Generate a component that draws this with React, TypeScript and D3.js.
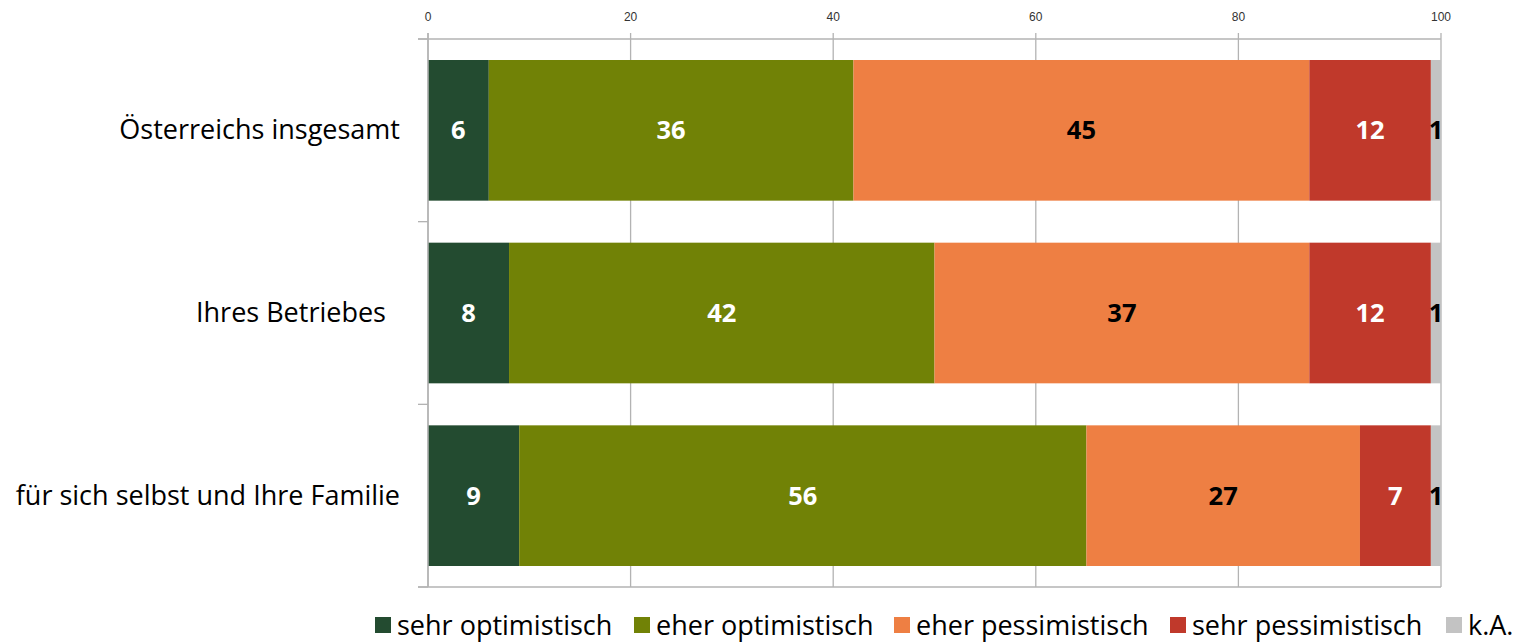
import React from "react";
import * as d3 from "d3";

const categories = ["Österreichs insgesamt", "Ihres Betriebes", "für sich selbst und Ihre Familie"];
const seriesNames = ["sehr optimistisch", "eher optimistisch", "eher pessimistisch", "sehr pessimistisch", "k.A."];
const sehrOptimistisch = [6, 8, 9];
const eherOptimistisch = [36, 42, 56];
const eherPessimistisch = [45, 37, 27];
const sehrPessimistisch = [12, 12, 7];
const keineAngabe = [1, 1, 1];
const xTicks = [0, 20, 40, 60, 80, 100];

const colors = ["#234B30", "#718206", "#EE7F43", "#C0392B", "#C3C3C3"];
const labelColors = ["#fff", "#fff", "#000", "#fff", "#000"];

const W = 1521, H = 642;
const left = 428, right = 1441, top = 39, bottom = 587;
const FONT = "'Open Sans', Lato, sans-serif";

export default function App() {
  const x = d3.scaleLinear().domain([0, 100]).range([left, right]);
  const y = d3.scaleBand().domain(categories).range([top, bottom]).paddingInner(0.23).paddingOuter(0.115);
  const rows = categories.map((c, i) => ({
    cat: c,
    vals: [sehrOptimistisch[i], eherOptimistisch[i], eherPessimistisch[i], sehrPessimistisch[i], keineAngabe[i]],
  }));
  const stacked = d3.stack<any, number>().keys(d3.range(5) as any).value((d: any, k: any) => d.vals[k])(rows as any);
  const step = (bottom - top) / categories.length;
  const legendX = [375, 634, 894, 1170, 1446];
  return (
    <svg width={W} height={H} style={{ position: "absolute", left: 0, top: 0, background: "#fff" }}>
      {xTicks.map((t) => (
        <g key={t}>
          <line x1={x(t)} x2={x(t)} y1={33} y2={bottom} stroke="#b3b3b3" strokeWidth={1.3} />
          <text x={x(t)} y={21} textAnchor="middle" fontFamily="'Liberation Sans', Arial, sans-serif" fontSize={12} fill="#333">{t}</text>
        </g>
      ))}
      <line x1={418} x2={right} y1={top} y2={top} stroke="#b3b3b3" strokeWidth={1.3} />
      <line x1={418} x2={right} y1={bottom} y2={bottom} stroke="#b3b3b3" strokeWidth={1.5} />
      {d3.range(categories.length + 1).map((i) => (
        <line key={i} x1={418} x2={left} y1={top + i * step} y2={top + i * step} stroke="#b3b3b3" strokeWidth={1.3} />
      ))}
      {stacked.map((s, k) => (
        <g key={k}>
          {s.map((d: any, i) => (
            <rect key={i} x={x(d[0])} y={y(categories[i])!} width={x(d[1]) - x(d[0])} height={y.bandwidth()} fill={colors[k]} />
          ))}
        </g>
      ))}
      <line x1={left} x2={left} y1={33} y2={bottom} stroke="#b3b3b3" strokeWidth={1.5} />
      {stacked.map((s, k) => (
        <g key={"l" + k}>
          {s.map((d: any, i) => (
            <text key={i} x={(x(d[0]) + x(d[1])) / 2} y={y(categories[i])! + y.bandwidth() / 2 + 9} textAnchor="middle"
              fontFamily={FONT} fontWeight="bold" fontSize={25.5} fill={labelColors[k]}>{d[1] - d[0]}</text>
          ))}
        </g>
      ))}
      {categories.map((c) => (
        <text key={c} x={400} y={y(c)! + y.bandwidth() / 2 + 9} textAnchor="end" fontFamily={FONT} fontSize={27} fill="#000">
          {c === "Ihres Betriebes" ? c + "\u00a0\u00a0" : c}
        </text>
      ))}
      {seriesNames.map((n, k) => (
        <g key={n}>
          <rect x={legendX[k]} y={617} width={16} height={16} fill={colors[k]} />
          <text x={legendX[k] + 22} y={635} fontFamily={FONT} fontSize={27} fill="#000">{n}</text>
        </g>
      ))}
    </svg>
  );
}
